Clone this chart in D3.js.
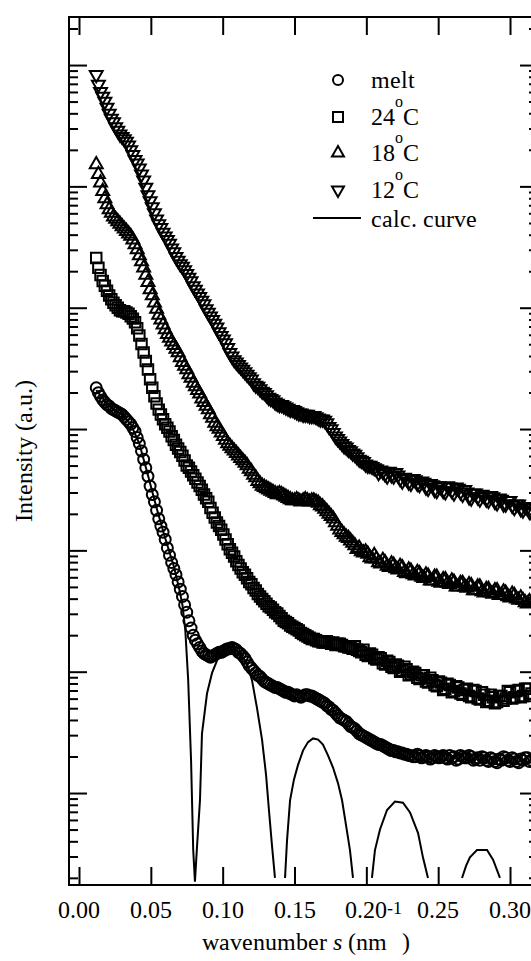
<!DOCTYPE html>
<html><head><meta charset="utf-8">
<script src="https://cdn.jsdelivr.net/npm/d3@7"></script>
<style>
@font-face{font-family:"ChartSerif";src:local("Liberation Serif"),local("LiberationSerif"),local("LiberationSerif-Regular"),local("Liberation Serif Regular"),local("DejaVu Serif"),local("DejaVuSerif");font-style:normal;}
@font-face{font-family:"ChartSerif";src:local("Liberation Serif Italic"),local("LiberationSerif-Italic"),local("DejaVu Serif Italic"),local("DejaVuSerif-Italic");font-style:italic;}
body{margin:0;background:#fff}
svg{display:block}
svg text{font-family:"ChartSerif","Liberation Serif","Times New Roman","DejaVu Serif",serif;fill:#000}
</style>
</head><body>
<svg id="c" width="531" height="961"></svg>
<script>
// wavenumber s (nm^-1) of the measured points
const s = [0.0120,0.0135,0.0150,0.0165,0.0180,0.0195,0.0210,0.0225,0.0240,0.0255,0.0270,0.0285,0.0300,0.0315,0.0330,0.0345,0.0360,0.0375,0.0390,0.0405,
0.0420,0.0435,0.0450,0.0465,0.0480,0.0495,0.0510,0.0525,0.0540,0.0555,0.0570,0.0585,0.0600,0.0615,0.0630,0.0645,0.0660,0.0675,0.0690,0.0705,
0.0720,0.0735,0.0750,0.0765,0.0780,0.0795,0.0810,0.0825,0.0840,0.0855,0.0870,0.0885,0.0900,0.0915,0.0930,0.0945,0.0960,0.0975,0.0990,0.1005,
0.1020,0.1035,0.1050,0.1065,0.1080,0.1095,0.1110,0.1125,0.1140,0.1155,0.1170,0.1185,0.1200,0.1215,0.1230,0.1245,0.1260,0.1275,0.1290,0.1305,
0.1320,0.1335,0.1350,0.1365,0.1380,0.1395,0.1410,0.1425,0.1440,0.1455,0.1470,0.1485,0.1500,0.1515,0.1530,0.1545,0.1560,0.1575,0.1590,0.1605,
0.1620,0.1635,0.1650,0.1665,0.1680,0.1695,0.1710,0.1725,0.1740,0.1755,0.1770,0.1785,0.1800,0.1815,0.1830,0.1845,0.1860,0.1875,0.1890,0.1905,
0.1920,0.1935,0.1950,0.1965,0.1980,0.1995,0.2010,0.2025,0.2040,0.2055,0.2070,0.2085,0.2100,0.2115,0.2130,0.2145,0.2160,0.2175,0.2190,0.2205,
0.2220,0.2235,0.2250,0.2265,0.2280,0.2295,0.2310,0.2325,0.2340,0.2355,0.2370,0.2385,0.2400,0.2415,0.2430,0.2445,0.2460,0.2475,0.2490,0.2505,
0.2520,0.2535,0.2550,0.2565,0.2580,0.2595,0.2610,0.2625,0.2640,0.2655,0.2670,0.2685,0.2700,0.2715,0.2730,0.2745,0.2760,0.2775,0.2790,0.2805,
0.2820,0.2835,0.2850,0.2865,0.2880,0.2895,0.2910,0.2925,0.2940,0.2955,0.2970,0.2985,0.3000,0.3015,0.3030,0.3045,0.3060,0.3075,0.3090,0.3105,
0.3120,0.3135,0.3150];

// log10 of intensity (a.u.) for each series
const melt = [3.34,3.30,3.27,3.24,3.22,3.20,3.19,3.17,3.16,3.15,
3.14,3.13,3.12,3.10,3.08,3.06,3.04,3.01,2.98,2.93,
2.88,2.82,2.75,2.68,2.61,2.53,2.46,2.40,2.33,2.26,
2.20,2.15,2.09,2.02,1.96,1.90,1.85,1.80,1.74,1.68,
1.62,1.55,1.49,1.42,1.36,1.30,1.26,1.23,1.20,1.17,
1.15,1.14,1.13,1.12,1.13,1.14,1.15,1.16,1.16,1.17,
1.18,1.19,1.19,1.20,1.19,1.18,1.16,1.15,1.13,1.11,
1.08,1.05,1.03,1.01,0.99,0.97,0.96,0.94,0.92,0.91,
0.90,0.89,0.88,0.87,0.87,0.86,0.85,0.84,0.83,0.83,
0.82,0.81,0.80,0.81,0.80,0.79,0.80,0.81,0.81,0.80,
0.80,0.79,0.78,0.77,0.76,0.75,0.74,0.72,0.71,0.69,
0.68,0.66,0.64,0.62,0.61,0.60,0.59,0.57,0.55,0.54,
0.53,0.51,0.49,0.48,0.47,0.46,0.45,0.44,0.43,0.42,
0.41,0.40,0.40,0.39,0.38,0.37,0.36,0.35,0.35,0.34,
0.34,0.33,0.33,0.32,0.32,0.31,0.31,0.30,0.30,0.32,
0.31,0.29,0.30,0.31,0.30,0.28,0.29,0.31,0.30,0.29,
0.30,0.31,0.29,0.28,0.31,0.29,0.30,0.27,0.28,0.31,
0.30,0.29,0.29,0.31,0.30,0.27,0.28,0.29,0.27,0.30,
0.29,0.27,0.26,0.29,0.28,0.26,0.25,0.28,0.27,0.30,
0.29,0.27,0.26,0.29,0.28,0.26,0.25,0.28,0.27,0.29,
0.29,0.26,0.27];

const t24 = [4.41,4.33,4.27,4.22,4.18,4.14,4.10,4.07,4.04,4.02,
4.00,3.98,3.97,3.97,3.96,3.95,3.93,3.91,3.88,3.83,
3.77,3.70,3.63,3.56,3.49,3.41,3.34,3.27,3.21,3.16,
3.12,3.08,3.04,3.01,2.98,2.94,2.91,2.87,2.84,2.81,
2.78,2.74,2.70,2.68,2.65,2.62,2.59,2.56,2.53,2.50,
2.46,2.43,2.40,2.35,2.31,2.27,2.23,2.20,2.17,2.13,
2.09,2.05,2.01,1.98,1.95,1.91,1.88,1.85,1.82,1.80,
1.77,1.74,1.72,1.69,1.67,1.64,1.62,1.60,1.58,1.56,
1.54,1.53,1.51,1.49,1.48,1.46,1.44,1.42,1.41,1.40,
1.38,1.37,1.36,1.35,1.34,1.32,1.31,1.30,1.29,1.28,
1.27,1.27,1.26,1.25,1.25,1.24,1.24,1.25,1.24,1.23,
1.24,1.22,1.23,1.23,1.22,1.21,1.21,1.20,1.20,1.19,
1.21,1.18,1.17,1.16,1.18,1.14,1.13,1.15,1.14,1.11,
1.10,1.12,1.11,1.07,1.06,1.09,1.08,1.04,1.03,1.06,
1.05,1.00,1.01,1.04,1.02,0.97,0.98,1.00,0.99,0.95,
0.94,0.97,0.97,0.92,0.91,0.95,0.93,0.89,0.88,0.92,
0.91,0.85,0.86,0.90,0.89,0.83,0.84,0.88,0.87,0.82,
0.81,0.85,0.86,0.80,0.79,0.85,0.84,0.78,0.77,0.83,
0.81,0.75,0.76,0.81,0.79,0.74,0.75,0.80,0.80,0.76,
0.78,0.84,0.83,0.78,0.79,0.84,0.85,0.79,0.80,0.86,
0.86,0.80,0.82];

const t18 = [5.18,5.10,5.03,4.96,4.90,4.85,4.81,4.78,4.75,4.73,
4.71,4.69,4.67,4.65,4.63,4.61,4.59,4.56,4.52,4.48,
4.43,4.38,4.33,4.27,4.21,4.15,4.10,4.04,3.99,3.94,
3.90,3.86,3.82,3.78,3.75,3.72,3.69,3.66,3.63,3.59,
3.55,3.52,3.49,3.45,3.42,3.38,3.35,3.32,3.29,3.25,
3.22,3.19,3.16,3.12,3.09,3.05,3.02,3.00,2.97,2.94,
2.91,2.88,2.86,2.84,2.82,2.80,2.78,2.76,2.74,2.72,
2.70,2.67,2.65,2.62,2.60,2.57,2.55,2.53,2.52,2.51,
2.50,2.49,2.48,2.47,2.46,2.47,2.46,2.45,2.44,2.43,
2.42,2.41,2.41,2.42,2.41,2.40,2.41,2.42,2.41,2.40,
2.41,2.41,2.40,2.39,2.37,2.36,2.34,2.32,2.30,2.28,
2.26,2.23,2.20,2.17,2.15,2.13,2.11,2.10,2.08,2.06,
2.04,2.01,2.02,1.99,1.98,1.99,1.97,1.94,1.93,1.96,
1.93,1.90,1.89,1.92,1.90,1.87,1.86,1.89,1.88,1.85,
1.84,1.87,1.86,1.82,1.81,1.84,1.83,1.80,1.79,1.82,
1.81,1.78,1.77,1.80,1.79,1.75,1.75,1.78,1.78,1.74,
1.73,1.76,1.76,1.73,1.72,1.75,1.74,1.70,1.70,1.73,
1.73,1.70,1.69,1.72,1.71,1.67,1.67,1.70,1.70,1.66,
1.65,1.68,1.68,1.65,1.64,1.67,1.67,1.63,1.63,1.66,
1.65,1.62,1.61,1.64,1.63,1.60,1.59,1.61,1.59,1.57,
1.56,1.58,1.57];

const t12 = [5.92,5.84,5.78,5.74,5.70,5.65,5.60,5.56,5.53,5.49,
5.46,5.43,5.41,5.39,5.37,5.34,5.30,5.26,5.22,5.19,
5.15,5.10,5.05,4.99,4.93,4.88,4.83,4.78,4.73,4.69,
4.66,4.62,4.59,4.56,4.53,4.49,4.46,4.42,4.39,4.36,
4.34,4.31,4.28,4.25,4.22,4.18,4.15,4.12,4.09,4.06,
4.03,3.99,3.96,3.93,3.90,3.87,3.84,3.80,3.77,3.74,
3.71,3.67,3.63,3.60,3.57,3.55,3.53,3.51,3.49,3.47,
3.45,3.43,3.41,3.38,3.36,3.35,3.33,3.31,3.30,3.28,
3.26,3.25,3.24,3.22,3.21,3.20,3.20,3.19,3.18,3.17,
3.16,3.16,3.15,3.14,3.13,3.13,3.12,3.12,3.12,3.11,
3.11,3.11,3.10,3.09,3.08,3.08,3.07,3.05,3.02,3.00,
2.97,2.94,2.92,2.90,2.88,2.86,2.85,2.83,2.82,2.80,
2.79,2.77,2.75,2.74,2.73,2.71,2.70,2.70,2.69,2.68,
2.67,2.64,2.66,2.65,2.63,2.61,2.65,2.62,2.61,2.64,
2.62,2.59,2.57,2.60,2.59,2.56,2.55,2.59,2.58,2.55,
2.54,2.57,2.56,2.52,2.51,2.55,2.54,2.50,2.49,2.53,
2.52,2.49,2.48,2.53,2.52,2.49,2.47,2.52,2.51,2.48,
2.46,2.50,2.48,2.44,2.43,2.47,2.47,2.44,2.42,2.46,
2.45,2.42,2.41,2.45,2.44,2.40,2.39,2.43,2.42,2.38,
2.38,2.41,2.41,2.37,2.35,2.38,2.38,2.34,2.33,2.36,
2.35,2.32,2.31];

// calculated curve (log10 intensity), null = below plotted range
const calcS = [0.012,0.018,0.024,0.030,0.036,0.042,0.048,0.054,0.060,0.066,0.070,0.072,0.074,0.076,0.078,0.0795,0.0807,0.0820,0.0842,0.0856,0.0891,0.0926,0.0967,0.1030,0.1072,0.1121,0.1169,0.1204,0.1239,0.1274,0.1302,0.1322,0.1343,0.1364,
 0.140,
 0.1434,0.1448,0.1469,0.1496,0.1524,0.1559,0.1594,0.1629,0.1664,0.1698,0.1733,0.1768,0.1803,0.1831,0.1858,0.1886,0.1907,
 0.197,
 0.2039,0.2060,0.2095,0.2144,0.2199,0.2255,0.2304,0.2360,0.2394,0.2429,
 0.255,
 0.2666,0.2694,0.2721,0.2770,0.2840,0.2882,0.2930];
const calcLog = [3.32,3.23,3.16,3.12,3.04,2.88,2.62,2.35,2.10,1.87,1.67,1.55,1.34,0.93,0.27,-0.47,-0.73,-0.47,-0.06,0.49,0.82,0.99,1.11,1.20,1.20,1.15,1.07,0.93,0.70,0.44,0.15,-0.14,-0.43,-0.70,
 null,
 -0.70,-0.39,-0.06,0.11,0.23,0.35,0.42,0.45,0.44,0.40,0.31,0.21,0.08,-0.06,-0.26,-0.47,-0.70,
 null,
 -0.70,-0.47,-0.30,-0.14,-0.07,-0.08,-0.16,-0.33,-0.53,-0.70,
 null,
 -0.70,-0.60,-0.53,-0.47,-0.47,-0.55,-0.70];

const xTicks = [0.00,0.05,0.10,0.15,0.20,0.25,0.30];
const legendLabels = ["melt","24","18","12","calc. curve"];

// ---------- drawing ----------
const svg = d3.select("#c");
const L = 69, R = 538, T = 17, B = 885;
const x = d3.scaleLinear().domain([-0.00696, 0.31948]).range([L, R]);
const y = d3.scaleLog().domain([Math.pow(10,-0.758), Math.pow(10,6.396)]).range([B, T]);

svg.append("defs").append("clipPath").attr("id","clip")
  .append("rect").attr("x",L).attr("y",T).attr("width",R-L).attr("height",B-T);

// y ticks
const [y0, y1] = y.domain();
const majors = [], minors = [];
for (let k = -1; k <= 7; k++) {
  for (let m = 1; m <= 9; m++) {
    const v = m * Math.pow(10, k);
    if (v >= y0 && v <= y1) (m === 1 ? majors : minors).push(v);
  }
}
function styleAxis(g){ g.select(".domain").remove(); g.selectAll("line").attr("stroke","#000").attr("stroke-width",2); g.selectAll("text").remove(); }
svg.append("g").attr("transform",`translate(${L},0)`).call(d3.axisRight(y).tickValues(majors).tickSize(18).tickFormat("")).call(styleAxis);
svg.append("g").attr("transform",`translate(${L},0)`).call(d3.axisRight(y).tickValues(minors).tickSize(9).tickFormat("")).call(styleAxis);
svg.append("g").attr("transform",`translate(${R},0)`).call(d3.axisLeft(y).tickValues(majors).tickSize(18).tickFormat("")).call(styleAxis);
svg.append("g").attr("transform",`translate(${R},0)`).call(d3.axisLeft(y).tickValues(minors).tickSize(9).tickFormat("")).call(styleAxis);
// x ticks
svg.append("g").attr("transform",`translate(0,${T})`).call(d3.axisBottom(x).tickValues(xTicks).tickSize(18).tickFormat("")).call(styleAxis);
svg.append("g").attr("transform",`translate(0,${B})`).call(d3.axisTop(x).tickValues(xTicks).tickSize(18).tickFormat("")).call(styleAxis);

// frame
svg.append("rect").attr("x",L).attr("y",T).attr("width",R-L).attr("height",B-T)
  .attr("fill","none").attr("stroke","#000").attr("stroke-width",2);

// x tick labels
svg.append("g").selectAll("text").data(xTicks).join("text")
  .attr("x", d => x(d)).attr("y", 918).attr("text-anchor","middle")
  .attr("font-size", 24).text(d => d3.format(".2f")(d));

// axis titles
const xt = svg.append("text").attr("x", 306).attr("y", 950).attr("text-anchor","middle").attr("font-size",24);
xt.append("tspan").text("wavenumber ");
xt.append("tspan").attr("font-style","italic").text("s");
xt.append("tspan").text(" (nm");
xt.append("tspan").attr("font-size",18).attr("dy",-36).text("-1");
xt.append("tspan").attr("dy",36).text(")");

svg.append("text").attr("transform","translate(32,451) rotate(-90)")
  .attr("text-anchor","middle").attr("font-size",24).text("Intensity (a.u.)");

// calc curve
const plot = svg.append("g").attr("clip-path","url(#clip)");
const calc = calcS.map((d,i) => ({s:d, v: calcLog[i] === null ? null : Math.pow(10, calcLog[i])}));
plot.append("path").datum(calc)
  .attr("d", d3.line().defined(d => d.v !== null).x(d => x(d.s)).y(d => y(d.v)))
  .attr("fill","none").attr("stroke","#000").attr("stroke-width",2);

// markers
const symCircle = d3.symbol().type(d3.symbolCircle).size(Math.PI*5.5*5.5)();
const symSquare = d3.symbol().type(d3.symbolSquare).size(110)();
const symTri = d3.symbol().type(d3.symbolTriangle).size(72)();
const series = [
  {vals: melt, path: symCircle, rot: 0},
  {vals: t24, path: symSquare, rot: 0},
  {vals: t18, path: symTri, rot: 0},
  {vals: t12, path: symTri, rot: 180}
];
series.forEach(se => {
  plot.append("g").selectAll("path").data(se.vals.map((v,i)=>({s:s[i], v:Math.pow(10,v)}))).join("path")
    .attr("d", se.path)
    .attr("transform", d => `translate(${x(d.s)},${y(d.v)}) rotate(${se.rot})`)
    .attr("fill","none").attr("stroke","#000").attr("stroke-width",2);
});

// legend
const lg = svg.append("g");
const lx = 338, tx = 371;
const rows = [80,117,153,190];
const legSyms = [d3.symbol().type(d3.symbolCircle).size(Math.PI*25)(), d3.symbol().type(d3.symbolSquare).size(100)(), d3.symbol().type(d3.symbolTriangle).size(62)(), d3.symbol().type(d3.symbolTriangle).size(62)()];
legSyms.forEach((p,i) => {
  lg.append("path").attr("d", p).attr("transform", `translate(${lx},${rows[i]}) rotate(${i===3?180:0})`)
    .attr("fill","none").attr("stroke","#000").attr("stroke-width",2);
});
lg.append("line").attr("x1",313).attr("x2",361).attr("y1",218).attr("y2",218).attr("stroke","#000").attr("stroke-width",2);
lg.append("text").attr("x",tx).attr("y",88).attr("font-size",24).text(legendLabels[0]);
[1,2,3].forEach(i => {
  const t = lg.append("text").attr("x",tx).attr("y",rows[i]+8).attr("font-size",24);
  t.append("tspan").text(legendLabels[i]);
  t.append("tspan").attr("font-size",16).attr("dy",-18).text("o");
  t.append("tspan").attr("dy",18).text("C");
});
lg.append("text").attr("x",tx).attr("y",227).attr("font-size",24).text(legendLabels[4]);
</script>
</body></html>
